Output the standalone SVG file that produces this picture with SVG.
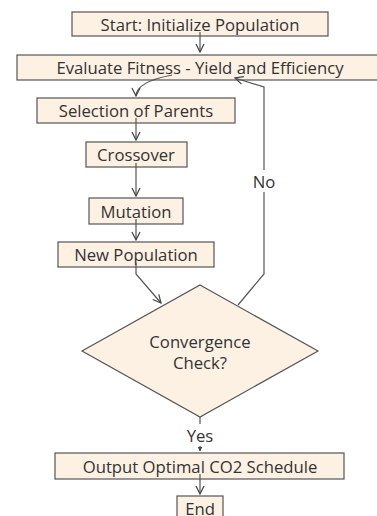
<svg xmlns="http://www.w3.org/2000/svg" width="377" height="516" viewBox="0 0 377 516">
<defs>
<style>
.n rect,.n polygon{fill:#fdf1e3;stroke:#555;stroke-width:1.2}
text{font-family:"Open Sans",Lato,sans-serif;font-size:16.7px;fill:#333;text-anchor:middle;dominant-baseline:central}
.e path{fill:none;stroke:#555;stroke-width:1.2}
</style>
<marker id="v" viewBox="0 0 10 10" refX="9" refY="5" markerWidth="10" markerHeight="10" markerUnits="userSpaceOnUse" orient="auto"><path d="M1,1 L9,5 L1,9" fill="none" stroke="#444" stroke-width="1.2"/></marker>
<marker id="t" viewBox="0 0 10 10" refX="9" refY="5" markerWidth="5" markerHeight="5" markerUnits="userSpaceOnUse" orient="auto"><path d="M0,0 L10,5 L0,10 z" fill="#444"/></marker>
</defs>
<rect width="377" height="516" fill="#fff"/>
<g id="start" class="n"><rect x="72" y="12" width="256" height="24"/><text x="200" y="24">Start: Initialize Population</text></g>
<g id="evaluate" class="n"><rect x="17" y="55" width="362" height="25"/><text x="200" y="67.5">Evaluate Fitness - Yield and Efficiency</text></g>
<g id="selection" class="n"><rect x="37" y="98" width="198" height="25"/><text x="136" y="110.5">Selection of Parents</text></g>
<g id="crossover" class="n"><rect x="86" y="142" width="101" height="25"/><text x="136" y="154.5">Crossover</text></g>
<g id="mutation" class="n"><rect x="89" y="198" width="94" height="26"/><text x="136" y="211">Mutation</text></g>
<g id="newpop" class="n"><rect x="58" y="242" width="156" height="25"/><text x="136" y="254.5">New Population</text></g>
<g id="convergence" class="n"><polygon points="200,285 318,351 200,417 82,351"/><text x="200" y="341">Convergence</text><text x="200" y="362">Check?</text></g>
<g id="output" class="n"><rect x="55" y="453" width="289" height="26"/><text x="200" y="466">Output Optimal CO2 Schedule</text></g>
<g id="end" class="n"><rect x="177" y="496" width="46" height="26"/><text x="200" y="508">End</text></g>
<g id="edges" class="e">
<path d="M200,32 L200,52" marker-end="url(#v)"/>
<path d="M172,75 Q136,82 136,96" marker-end="url(#v)"/>
<path d="M136,118 L136,140" marker-end="url(#v)"/>
<path d="M136,163 L136,196" marker-end="url(#v)"/>
<path d="M136,219 L136,240" marker-end="url(#v)"/>
<path d="M136,263 L136,274 L161,303" marker-end="url(#v)"/>
<path d="M238,305 L264,274 L264,192"/>
<path d="M264,170 L264,87 L235,78" marker-end="url(#v)"/>
<path d="M200,417 L200,424"/>
<path d="M200,446 L200,451" marker-end="url(#t)"/>
<path d="M200,474 L200,494" marker-end="url(#v)"/>
<text x="264" y="181">No</text>
<text x="200" y="435">Yes</text>
</g>
</svg>
